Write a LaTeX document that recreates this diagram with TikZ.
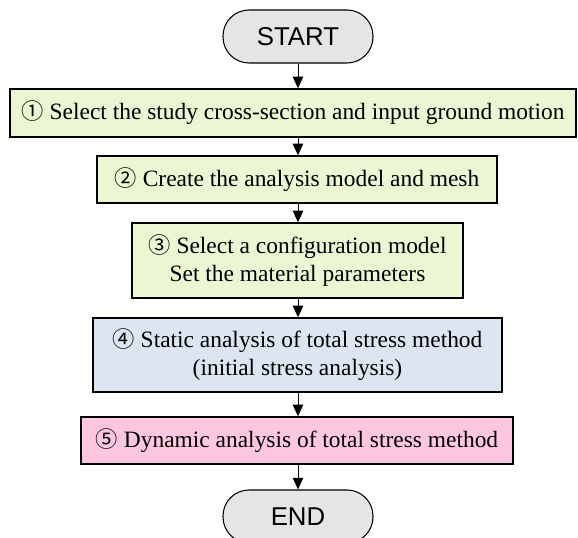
\documentclass[tikz,border=0pt]{standalone}
\usepackage{fontspec}
\setmainfont{Liberation Serif}
\newfontfamily\arialfont{Liberation Sans}
\newfontfamily\circfont{Noto Sans CJK JP}
\usepackage{xcolor}
\definecolor{termgray}{RGB}{229,229,229}
\definecolor{stepgreen}{RGB}{235,247,210}
\definecolor{stepblue}{RGB}{220,230,242}
\definecolor{steppink}{RGB}{255,199,222}
\newcommand{\stepno}[1]{{\circfont\fontsize{19}{22}\selectfont #1}}
\usetikzlibrary{arrows.meta,positioning}

\begin{document}
\begin{tikzpicture}[
  font=\fontsize{20}{24}\selectfont,
  term/.style={
    rectangle, rounded corners=0.78cm,
    minimum width=4.5cm, minimum height=1.59cm,
    draw=black, fill=termgray,
    line width=0.9pt, font=\arialfont\fontsize{22}{26}\selectfont
  },
  stepbox/.style={
    rectangle, align=center, inner sep=0pt,
    draw=black, fill=#1,
    line width=1.2pt
  },
  arr/.style={-{Triangle[width=9pt,length=10pt]}, line width=0.8pt}
]
\useasboundingbox (0,0) rectangle (17.34,-16.14);

\node[term] (start) at (8.94,-1.095) {START};

\node[stepbox=stepgreen, minimum width=16.98cm, minimum height=1.44cm]
  (select) at (8.79,-3.39)
  {\stepno{①} Select the study cross-section and input ground motion};

\node[stepbox=stepgreen, minimum width=12.0cm, minimum height=1.41cm]
  (mesh) at (8.91,-5.385)
  {\stepno{②} Create the analysis model and mesh};

\node[stepbox=stepgreen, minimum width=9.93cm, minimum height=2.25cm]
  (config) at (8.925,-7.815)
  {\stepno{③} Select a configuration model\\
   Set the material parameters};

\node[stepbox=stepblue, minimum width=12.27cm, minimum height=2.22cm]
  (static) at (8.925,-10.65)
  {\stepno{④} Static analysis of total stress method\\
   (initial stress analysis)};

\node[stepbox=steppink, minimum width=12.96cm, minimum height=1.41cm]
  (dynamic) at (8.91,-13.215)
  {\stepno{⑤} Dynamic analysis of total stress method};

\node[term] (finish) at (8.94,-15.495) {END};

% arrows between the steps
\draw[arr] (start.south) -- (start.south |- select.north);
\draw[arr] (start.south |- select.south) -- (start.south |- mesh.north);
\draw[arr] (start.south |- mesh.south) -- (start.south |- config.north);
\draw[arr] (start.south |- config.south) -- (start.south |- static.north);
\draw[arr] (start.south |- static.south) -- (start.south |- dynamic.north);
\draw[arr] (start.south |- dynamic.south) -- (finish.north);
\end{tikzpicture}
\end{document}
